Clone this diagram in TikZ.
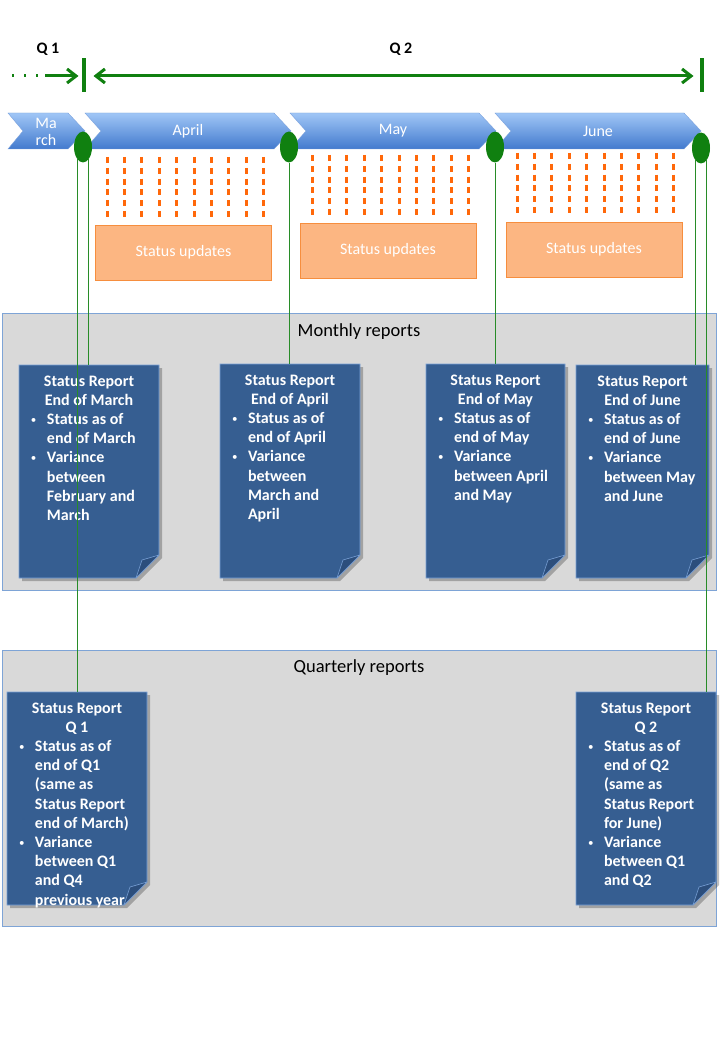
\documentclass[tikz,border=0pt]{standalone}
\usepackage{fontspec}
\setmainfont{Carlito}
\usetikzlibrary{arrows.meta,shapes.geometric}

\definecolor{qgreen}{RGB}{16,128,16}
\definecolor{linkgreen}{RGB}{40,140,40}
\definecolor{chevtop}{RGB}{160,198,246}
\definecolor{chevbot}{RGB}{66,122,206}
\definecolor{tickorange}{RGB}{255,104,10}
\definecolor{updfill}{RGB}{252,182,130}
\definecolor{updline}{RGB}{246,142,62}
\definecolor{panelfill}{RGB}{217,217,217}
\definecolor{panelline}{RGB}{126,164,214}
\definecolor{cardfill}{RGB}{54,94,145}
\definecolor{cardline}{RGB}{120,160,214}
\definecolor{foldfill}{RGB}{44,78,124}

% bullet line with hanging indent
\newcommand{\itm}[1]{\par\leftskip=12pt\hangindent=16pt\hangafter=1\noindent
  \makebox[16pt][l]{\raisebox{1pt}{\normalfont\fontsize{11}{11}\selectfont\textbullet}}#1}

% report sheet: left, top, right, bottom
\newcommand{\repcard}[4]{%
  \fill[black, opacity=0.25] (#1+3,#2+3) -- (#3+3,#2+3) -- (#3+3,#4-20) -- (#3-20,#4+3) -- (#1+3,#4+3) -- cycle;
  \draw[cardbody] (#1,#2) -- (#3,#2) -- (#3,#4-23) -- (#3-23,#4) -- (#1,#4) -- cycle;
  \draw[cardfold] (#3,#4-23) -- (#3-17,#4-18) -- (#3-23,#4) -- cycle;
}

\begin{document}
\begin{tikzpicture}[x=1pt,y=-1pt,
  qlabel/.style={font=\fontsize{16}{18}\selectfont\bfseries},
  qbar/.style={fill=qgreen, minimum width=3.5pt, minimum height=34pt, inner sep=0pt},
  qline/.style={draw=qgreen, line width=3pt},
  chev/.style={top color=chevtop, bottom color=chevbot, draw=chevbot!70!white, line width=0.4pt},
  monthtext/.style={text=white, font=\fontsize{16}{17}\selectfont},
  stone/.style={ellipse, fill=qgreen, minimum width=18pt, minimum height=31pt, inner sep=0pt},
  tick/.style={draw=tickorange, line width=3pt, dash pattern=on 6pt off 4.8pt},
  upd/.style={fill=updfill, draw=updline, minimum width=176pt, minimum height=55pt, text=white, font=\fontsize{16}{18}\selectfont},
  panel/.style={fill=panelfill, draw=panelline, line width=0.8pt},
  ptitle/.style={font=\fontsize{18.5}{21}\selectfont},
  cardbody/.style={fill=cardfill, draw=cardline, line width=0.8pt},
  cardfold/.style={fill=foldfill, draw=cardline, line width=0.6pt, line join=round},
  rtext/.style={anchor=north, inner xsep=0pt, inner ysep=10.5pt, text=white, font=\fontsize{16}{19.2}\selectfont\bfseries},
  link/.style={draw=linkgreen, line width=1pt}]

\path[use as bounding box, fill=white] (0,0) rectangle (720,1040);

% quarters
\node[qlabel] (q1) at (48,49) {Q 1};
\node[qlabel] (q2) at (401,49) {Q 2};
\node[qbar] (b1) at (84,75) {};
\node[qbar] (b2) at (702,75) {};
\coordinate (d0) at (12,76);
\coordinate (d1) at (45,76);
\draw[qline, dash pattern=on 1.5pt off 10.5pt] (d0) -- (d1);
\draw[qline, -{Straight Barb[length=9pt,width=14pt]}, shorten >=5.5pt] (d1) -- (d1 -| b1);
\draw[qline, {Straight Barb[length=9pt,width=14pt]}-{Straight Barb[length=9pt,width=14pt]}, shorten <=9.5pt, shorten >=8.5pt] (d1 -| b1) -- (d1 -| b2);

% months
\shade[chev] (8,113) -- (68,113) -- (85,131) -- (68,149) -- (8,149) -- (23,131) -- cycle;
\node[monthtext, align=center] (March) at (46,132) {Ma\\rch};
\foreach \x/\m in {85/April, 290/May, 495/June} {
  \shade[chev] (\x,113) -- (\x+189,113) -- (\x+206,131) -- (\x+189,149) -- (\x,149) -- (\x+16,131) -- cycle;
  \node[monthtext] (\m) at (\x+103,131) {\m};
}

% milestones
\node[stone] (e1) at (83,147) {};
\node[stone] (e2) at (289,147) {};
\node[stone] (e3) at (495,147) {};
\node[stone] (e4) at (701,148) {};

% status updates
\foreach \m/\t in {0/157, 1/155, 2/153}
  \foreach \i in {0,...,9}
    \draw[tick] ({107+205*\m+17.4*\i},\t) -- ++(0,60);
\node[upd] (u1) at (183.5,252.5) {Status updates};
\node[upd] (u2) at (388,250.5) {Status updates};
\node[upd] (u3) at (594,249.5) {Status updates};

% panels
\draw[panel] (2,313) rectangle (716,590);
\node[ptitle] (mtitle) at (359,332) {Monthly reports};
\draw[panel] (2,650) rectangle (716,926);
\node[ptitle] (qtitle) at (359,668) {Quarterly reports};

% reports
\repcard{19}{365}{159}{578}
\repcard{220}{364}{360}{578}
\repcard{426}{364}{565}{578}
\repcard{576}{365}{709}{578}
\repcard{7}{692}{147}{905}
\repcard{576}{692}{716}{905}

\node[rtext] (rMar) at (89,365) {\parbox[t]{140pt}{{\centering Status Report\\End of March\par}%
  \itm{Status as of\newline end of March}\itm{Variance\newline between\newline February and\newline March}}};
\node[rtext] (rApr) at (290,364) {\parbox[t]{140pt}{{\centering Status Report\\End of April\par}%
  \itm{Status as of\newline end of April}\itm{Variance\newline between\newline March and\newline April}}};
\node[rtext] (rMay) at (495.5,364) {\parbox[t]{139pt}{{\centering Status Report\\End of May\par}%
  \itm{Status as of\newline end of May}\itm{Variance\newline between April\newline and May}}};
\node[rtext] (rJun) at (642.5,365) {\parbox[t]{133pt}{{\centering Status Report\\End of June\par}%
  \itm{Status as of\newline end of June}\itm{Variance\newline between May\newline and June}}};
\node[rtext] (rQ1) at (77,692) {\parbox[t]{140pt}{{\centering Status Report\\Q 1\par}%
  \itm{Status as of\newline end of Q1\newline (same as\newline Status Report\newline end of March)}%
  \itm{Variance\newline between Q1\newline and Q4\newline previous year}}};
\node[rtext] (rQ2) at (646,692) {\parbox[t]{140pt}{{\centering Status Report\\Q 2\par}%
  \itm{Status as of\newline end of Q2\newline (same as\newline Status Report\newline for June)}%
  \itm{Variance\newline between Q1\newline and Q2}}};

% links
\draw[link] (e1.-65) -- (e1.-65 |- rMar.north);
\draw[link] (e1.-115) -- (e1.-115 |- rQ1.north);
\draw[link] (e2.south) -- (e2.south |- rApr.north);
\draw[link] (e3.south) -- (e3.south |- rMay.north);
\draw[link] (e4.-115) -- (e4.-115 |- rJun.north);
\draw[link] (e4.-65) -- (e4.-65 |- rQ2.north);

\end{tikzpicture}
\end{document}
